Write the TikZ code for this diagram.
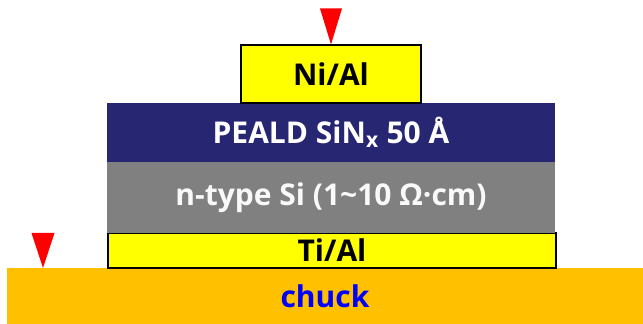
\documentclass[tikz,border=0pt]{standalone}
\usepackage{fontspec}
\setmainfont{Open Sans}
\usetikzlibrary{positioning}
\definecolor{chuckcol}{RGB}{255,192,0}
\definecolor{navycol}{RGB}{38,38,114}
\definecolor{sigray}{RGB}{128,128,128}
\definecolor{metal}{RGB}{255,255,0}
\tikzset{
  layer/.style={rectangle, inner sep=0pt, font=\bfseries\fontsize{22.5}{26}\selectfont},
  contact/.style={layer, fill=metal, draw=black, line width=0.8pt},
  probe/.style={fill=red}
}
\begin{document}
\begin{tikzpicture}[x=0.75pt,y=0.75pt]
  \useasboundingbox (0,0) rectangle (643,324);
  % chuck and stack of layers
  \node[layer, fill=chuckcol, text=blue, minimum width=477pt, minimum height=42pt] (chuck) at (325,28) {chuck};
  \node[contact, minimum width=336pt, minimum height=26.25pt] (tial) at (332,73.5) {Ti/Al};
  \node[layer, fill=sigray, text=white!95!gray, minimum width=336pt, minimum height=53.25pt] (nsi) at (331,126.5) {n-type Si (1\textasciitilde10 Ω·cm)};
  \node[layer, fill=navycol, text=white, minimum width=336pt, minimum height=44.25pt] (sin) at (331,191.5) {PEALD SiN\textsubscript{x} 50 Å};
  \node[contact, minimum width=135pt, minimum height=43.5pt] (nial) at (331,250) {Ni/Al};
  % probe tips
  \coordinate (tiptop) at (nial.north);
  \coordinate (tipbot) at (43,56);
  \fill[probe] (tiptop) -- ++(-11,36) -- ++(22,0) -- cycle;
  \fill[probe] (tipbot) -- ++(-11.5,35) -- ++(23,0) -- cycle;
\end{tikzpicture}
\end{document}
